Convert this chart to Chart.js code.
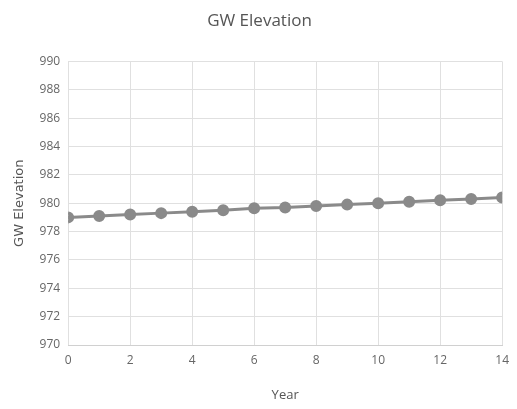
<!DOCTYPE html>
<html>
<head>
<meta charset="utf-8">
<script src="https://cdn.jsdelivr.net/npm/chart.js@4"></script>
<style>
  html, body { margin: 0; padding: 0; background: #fff; }
  #wrap { width: 517px; height: 409px; }
</style>
</head>
<body>
<div id="wrap"><canvas id="chart"></canvas></div>
<script>
const years = [0, 1, 2, 3, 4, 5, 6, 7, 8, 9, 10, 11, 12, 13, 14];
const elevation = [979.0, 979.1, 979.2, 979.3, 979.4, 979.5, 979.65, 979.7, 979.8, 979.9, 980.0, 980.1, 980.2, 980.3, 980.4];

const ctx = document.getElementById('chart').getContext('2d');
new Chart(ctx, {
    type: 'line',
    data: {
        datasets: [{
            label: 'GW Elevation',
            data: years.map((y, i) => ({ x: y, y: elevation[i] })),
            borderColor: '#8a8a8a',
            backgroundColor: '#8a8a8a',
            borderWidth: 3,
            pointRadius: 4.5,
            pointHoverRadius: 4.5,
            tension: 0
        }]
    },
    options: {
        responsive: true,
        maintainAspectRatio: false,
        animation: false,
        layout: { padding: { left: 8, right: 6, top: 7, bottom: 2 } },
        plugins: {
            legend: { display: false },
            tooltip: { enabled: false },
            title: {
                display: true,
                text: 'GW Elevation',
                color: '#555',
                font: { family: 'Open Sans', size: 17, weight: 'normal' },
                padding: { top: 4, bottom: 30 }
            }
        },
        scales: {
            x: {
                type: 'linear',
                min: 0,
                max: 14,
                ticks: { stepSize: 2, color: '#666', font: { family: 'Open Sans', size: 12 }, padding: 8 },
                grid: { color: '#e0e0e0', drawTicks: false },
                border: { color: '#d0d0d0' },
                title: { display: true, text: 'Year', color: '#555', font: { family: 'Open Sans', size: 13 }, padding: { top: 12, bottom: 4 } }
            },
            y: {
                min: 970,
                max: 990,
                ticks: { stepSize: 2, color: '#666', font: { family: 'Open Sans', size: 12 }, padding: 8 },
                grid: { color: '#e0e0e0', drawTicks: false },
                border: { display: false },
                title: { display: true, text: 'GW Elevation', color: '#555', font: { family: 'DejaVu Sans', size: 13 } }
            }
        }
    }
});
</script>
</body>
</html>
